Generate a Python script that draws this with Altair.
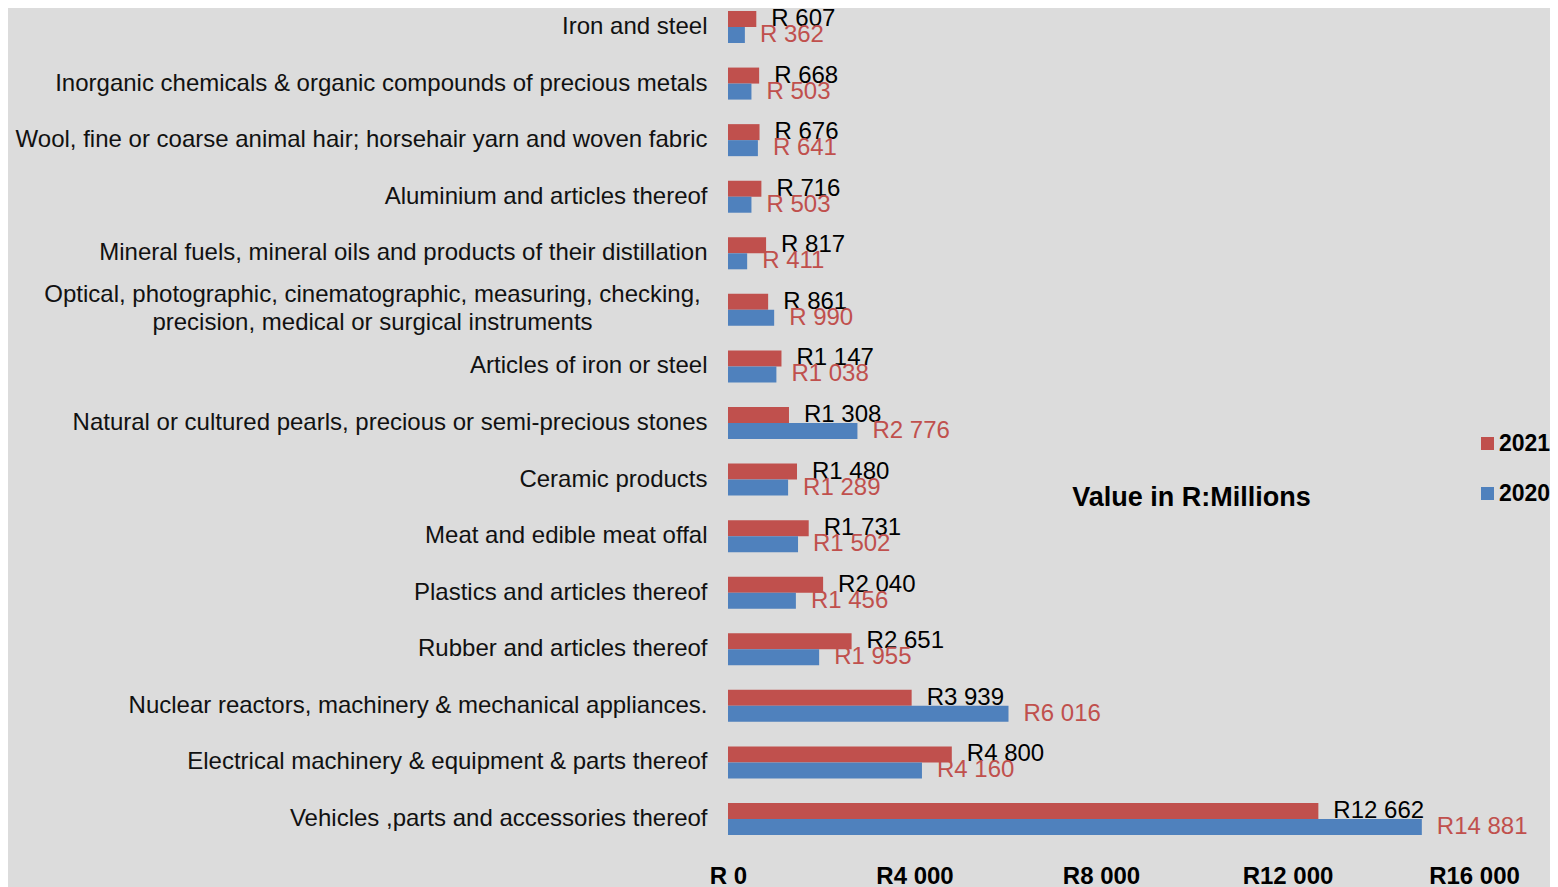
import altair as alt
import pandas as pd

categories = [
    "Iron and steel",
    "Inorganic chemicals & organic  compounds of precious metals",
    "Wool, fine or coarse animal hair; horsehair yarn and woven fabric",
    "Aluminium and articles thereof",
    "Mineral fuels, mineral oils and products of their distillation",
    "Optical, photographic, cinematographic, measuring, checking,|precision, medical or surgical instruments",
    "Articles of iron or steel",
    "Natural or cultured pearls, precious or semi-precious stones",
    "Ceramic products",
    "Meat and edible meat offal",
    "Plastics and articles thereof",
    "Rubber and articles thereof",
    "Nuclear reactors, machinery & mechanical appliances.",
    "Electrical machinery & equipment & parts thereof",
    "Vehicles ,parts and accessories thereof",
]
values_2021 = [607, 668, 676, 716, 817, 861, 1147, 1308, 1480, 1731, 2040, 2651, 3939, 4800, 12662]
values_2020 = [362, 503, 641, 503, 411, 990, 1038, 2776, 1289, 1502, 1456, 1955, 6016, 4160, 14881]
years = ["2021", "2020"]
x_ticks = [0, 4000, 8000, 12000, 16000]


def rand(v):
    if v < 1000:
        return "R " + str(v)
    return "R" + f"{v:,}".replace(",", " ")


rows = []
for c, a, b in zip(categories, values_2021, values_2020):
    rows.append({"category": c, "year": "2021", "value": a, "label": rand(a)})
    rows.append({"category": c, "year": "2020", "value": b, "label": rand(b)})
df = pd.DataFrame(rows)

RED = "#c0504d"
BLUE = "#4f81bd"
FONT = "Liberation Sans"
IS_OPT = "indexof(datum.value, 'Optical') == 0"

y_enc = alt.Y(
    "category:N",
    sort=categories,
    scale=alt.Scale(paddingInner=0.434, paddingOuter=0.053),
    axis=alt.Axis(
        title=None,
        ticks=False,
        domain=False,
        labelExpr="split(datum.label, '|')",
        labelFont=FONT,
        labelFontSize=24,
        labelColor="#111111",
        labelPadding={"condition": {"test": IS_OPT, "value": 356}, "value": 21},
        labelAlign={"condition": {"test": IS_OPT, "value": "center"}, "value": "right"},
        labelLimit=1000,
        labelLineHeight=28,
        labelOffset={"condition": {"test": IS_OPT, "value": -15}, "value": 0},
    ),
)
yoff = alt.YOffset("year:N", sort=years, scale=alt.Scale(paddingInner=0, paddingOuter=0))
x_enc = alt.X(
    "value:Q",
    scale=alt.Scale(domain=[0, 16000], nice=False),
    axis=alt.Axis(
        values=x_ticks,
        title="Value in R:Millions",
        titleFont=FONT,
        titleFontSize=27,
        titleFontWeight="bold",
        titleColor="#000000",
        titleX=463,
        titleY=-341,
        titleAlign="center",
        titleBaseline="middle",
        grid=False,
        ticks=False,
        domain=False,
        labelExpr="datum.value == 0 ? 'R 0' : 'R' + replace(format(datum.value, ','), ',', ' ')",
        labelFont=FONT,
        labelFontSize=24,
        labelFontWeight="bold",
        labelColor="#000000",
        labelPadding=26,
        labelFlush=False,
        labelOverlap=False,
    ),
)

bars = alt.Chart(df).mark_bar().encode(
    x=x_enc,
    y=y_enc,
    yOffset=yoff,
    color=alt.Color(
        "year:N",
        sort=years,
        scale=alt.Scale(domain=years, range=[RED, BLUE]),
        legend=alt.Legend(
            title=None,
            orient="none",
            legendX=748,
            legendY=424,
            symbolType="square",
            symbolSize=169,
            symbolStrokeWidth=0,
            labelFont=FONT,
            labelFontSize=23,
            labelFontWeight="bold",
            labelColor="#000000",
            labelOffset=0,
            rowPadding=26,
        ),
    ),
)

texts = alt.Chart(df).mark_text(
    align="left", baseline="middle", dx=15, font=FONT, fontSize=24
).encode(
    x="value:Q",
    y=alt.Y("category:N", sort=categories),
    yOffset=yoff,
    text="label:N",
    color=alt.condition(alt.datum.year == "2021", alt.value("#000000"), alt.value(RED)),
)

chart = (
    alt.layer(bars, texts)
    .properties(
        width=746,
        height=830,
        background="#dcdcdc",
        autosize=alt.AutoSizeParams(type="none"),
        padding={"left": 720, "top": 0, "right": 76, "bottom": 49},
    )
    .configure_view(stroke=None)
)

chart.save("out.html", embed_options={"renderer": "svg", "actions": False})
